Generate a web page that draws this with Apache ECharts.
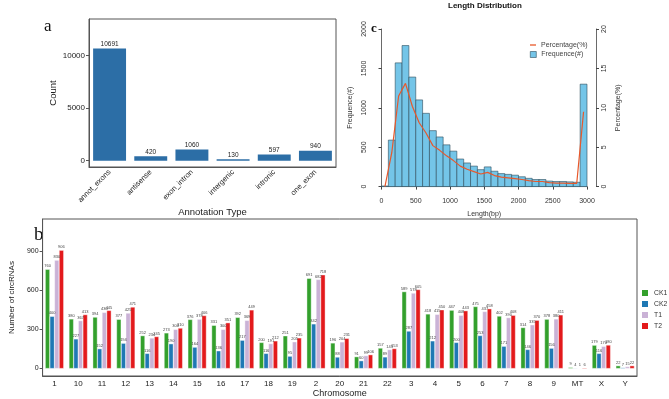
<!DOCTYPE html>
<html><head><meta charset="utf-8">
<script src="https://cdn.jsdelivr.net/npm/echarts@6/dist/echarts.min.js"></script>
<style>html,body{margin:0;padding:0;background:#fff}#c{width:669px;height:399px}</style>
</head><body><div id="c"></div>
<script>
// ---- panel a ----
const annoTypes = ['annot_exons','antisense','exon_intron','intergenic','intronic','one_exon'];
const annoCounts = [10691,420,1060,130,597,940];
const annoTicks = [0,5000,10000];
// ---- panel b ----
const chromosomes = ['1','10','11','12','13','14','15','16','17','18','19','2','20','21','22','3','4','5','6','7','8','9','MT','X','Y'];
const ck1 = [760,380,394,377,252,273,376,331,392,200,251,691,196,91,157,589,418,447,475,402,314,378,9,179,22];
const ck2 = [400,227,152,194,116,190,164,136,217,116,95,342,88,60,89,287,212,200,253,171,146,156,4,116,7];
const t1  = [830,367,430,425,234,300,378,300,369,191,205,682,204,99,145,578,415,408,437,390,335,380,1,170,15];
const t2  = [906,413,445,471,245,310,406,351,449,212,235,718,231,106,153,605,450,443,458,408,370,411,6,180,22];
const groupNames = ['CK1','CK2','T1','T2'];
const circTicks = [0,300,600,900];
// ---- panel c ----
const binStarts = [0,100,200,300,400,500,600,700,800,900,1000,1100,1200,1300,1400,1500,1600,1700,1800,1900,2000,2100,2200,2300,2400,2500,2600,2700,2800,2900];
const binEnds   = [100,200,300,400,500,600,700,800,900,1000,1100,1200,1300,1400,1500,1600,1700,1800,1900,2000,2100,2200,2300,2400,2500,2600,2700,2800,2900,3000];
const freqCounts = [8,590,1570,1790,1390,1100,930,710,630,530,450,350,300,260,215,250,195,165,155,145,125,105,90,90,70,65,65,60,55,1300];
const pctX = [50,150,250,350,450,550,650,750,850,950,1050,1150,1250,1350,1450,1550,1650,1750,1850,1950,2050,2150,2250,2350,2450,2550,2650,2750,2850,2950];
const pctValues = [0,4.3,11.5,13.1,10.2,8.1,6.8,5.2,4.6,3.9,3.3,2.6,2.2,1.9,1.6,1.8,1.4,1.2,1.1,1.0,0.9,0.75,0.65,0.65,0.5,0.45,0.45,0.4,0.4,9.5];

const FONT = "'Liberation Sans', Arial, sans-serif";
const colors = ['#33a02c','#1f78b4','#cab2d6','#e31a1c'];
const plain = v => String(v);
const chart = echarts.init(document.getElementById('c'), null, {renderer:'canvas'});

const bSeries = [ck1,ck2,t1,t2].map((arr,i)=>({
  name: groupNames[i], type:'bar', xAxisIndex:1, yAxisIndex:1,
  data: arr, barGap:'0%', barCategoryGap:'22%',
  itemStyle:{color:colors[i], borderColor:'#fff', borderWidth:0.4},
  label:{show:true, position:'top', distance:1, fontSize:4, color:'#444', fontFamily:FONT},
  emphasis:{disabled:true}
}));

const option = {
  animation:false,
  textStyle:{fontFamily:FONT},
  graphic:[
    {type:'text', left:44, top:18, style:{text:'a', font:"17px 'Liberation Serif', serif", fill:'#111'}},
    {type:'text', left:34, top:226, style:{text:'b', font:"19px 'Liberation Serif', serif", fill:'#111'}},
    {type:'text', left:371, top:22, style:{text:'c', font:"bold 13px 'Liberation Serif', serif", fill:'#111'}},
    {type:'text', left:448, top:2, style:{text:'Length Distribution', font:"bold 8px "+FONT, fill:'#111'}}
  ],
  legend:[
    {data:groupNames, orient:'vertical', left:640, top:288, padding:0, itemWidth:8, itemHeight:8, itemGap:1,
     textStyle:{fontSize:6.8, color:'#333', fontFamily:FONT}, icon:'rect', selectedMode:false},
    {data:['Percentage(%)'], left:530, top:41.5, padding:0, icon:'rect',
     itemWidth:6, itemHeight:1.3, textStyle:{fontSize:7, color:'#444', fontFamily:FONT}, selectedMode:false},
    {data:['Frequence(#)'], left:530, top:51, padding:0, icon:'rect',
     itemWidth:6, itemHeight:6, itemStyle:{color:'#74c5e8', borderColor:'#2d4b5a', borderWidth:0.6},
     textStyle:{fontSize:7, color:'#444', fontFamily:FONT}, selectedMode:false}
  ],
  grid:[
    {left:89, right:333, top:19, bottom:232, show:true, borderColor:'#555', borderWidth:1, backgroundColor:'transparent'},
    {left:24, right:32, top:219, bottom:17, show:true, borderColor:'#555', borderWidth:1, backgroundColor:'transparent'},
    {left:381.5, right:82, top:29, bottom:212.4}
  ],
  xAxis:[
    {gridIndex:0, type:'category', data:annoTypes,
     axisLine:{onZero:false, lineStyle:{color:'#555'}}, axisTick:{alignWithLabel:true, length:3, lineStyle:{color:'#555'}},
     axisLabel:{rotate:45, fontSize:7.5, color:'#222', margin:4, interval:0},
     name:'Annotation Type', nameLocation:'middle', nameGap:24, nameTextStyle:{fontSize:9.5, color:'#222'}},
    {gridIndex:1, type:'category', data:chromosomes,
     axisLine:{onZero:false, lineStyle:{color:'#555'}}, axisTick:{alignWithLabel:true, length:3, lineStyle:{color:'#555'}},
     axisLabel:{fontSize:8, color:'#222', margin:4, interval:0},
     name:'Chromosome', nameLocation:'middle', nameGap:13, nameTextStyle:{fontSize:9, color:'#222'}},
    {gridIndex:2, type:'value', min:0, max:3000, interval:500, offset:6,
     axisLine:{show:true, lineStyle:{color:'#444', width:0.8}}, axisTick:{show:true, length:3, lineStyle:{color:'#444'}},
     axisLabel:{fontSize:7, color:'#333', margin:5, formatter:plain}, splitLine:{show:false},
     name:'Length(bp)', nameLocation:'middle', nameGap:18, nameTextStyle:{fontSize:7, color:'#333'}}
  ],
  yAxis:[
    {gridIndex:0, type:'value', min:-600, max:13500,
     axisLine:{show:true, onZero:false, lineStyle:{color:'#555'}},
     axisTick:{show:true, length:3, customValues:annoTicks, lineStyle:{color:'#555'}},
     axisLabel:{customValues:annoTicks, fontSize:8, color:'#222', margin:4, formatter:plain},
     splitLine:{show:false},
     name:'Count', nameLocation:'middle', nameGap:23, nameTextStyle:{fontSize:9.5, color:'#222'}},
    {gridIndex:1, type:'value', min:-57, max:1145,
     axisLine:{show:true, onZero:false, lineStyle:{color:'#555'}},
     axisTick:{show:true, length:3, customValues:circTicks, lineStyle:{color:'#555'}},
     axisLabel:{customValues:circTicks, fontSize:7, color:'#222', margin:4, formatter:plain},
     splitLine:{show:false},
     name:'Number of circRNAs', nameLocation:'middle', nameGap:13, nameTextStyle:{fontSize:8, color:'#222'}},
    {gridIndex:2, type:'value', min:0, max:2000, interval:500, offset:8.5, position:'left',
     axisLine:{show:true, lineStyle:{color:'#444', width:0.8}}, axisTick:{show:true, length:3, lineStyle:{color:'#444'}},
     axisLabel:{rotate:90, fontSize:7, color:'#333', margin:5, formatter:plain}, splitLine:{show:false},
     name:'Frequence(#)', nameLocation:'middle', nameGap:19, nameTextStyle:{fontSize:7, color:'#333'}},
    {gridIndex:2, type:'value', min:0, max:20, interval:5, offset:9, position:'right',
     axisLine:{show:true, lineStyle:{color:'#444', width:0.8}}, axisTick:{show:true, length:3, lineStyle:{color:'#444'}},
     axisLabel:{rotate:90, fontSize:7, color:'#333', margin:5, formatter:plain}, splitLine:{show:false},
     name:'Percentage(%)', nameLocation:'middle', nameGap:19, nameRotate:90, nameTextStyle:{fontSize:7, color:'#333'}}
  ],
  series:[
    {type:'bar', xAxisIndex:0, yAxisIndex:0, data:annoCounts, barWidth:'80%',
     itemStyle:{color:'#2c6ea6'},
     label:{show:true, position:'top', distance:1, fontSize:6.5, color:'#222'}, emphasis:{disabled:true}},
    ...bSeries,
    {name:'Frequence(#)', type:'custom', xAxisIndex:2, yAxisIndex:2,
     data: binStarts.map((s,i)=>[s, binEnds[i], freqCounts[i]]),
     encode:{x:[0,1], y:2},
     itemStyle:{color:'#74c5e8', borderColor:'#2d4b5a', borderWidth:0.6},
     renderItem:function(params, api){
       const p0 = api.coord([api.value(0), api.value(2)]);
       const p1 = api.coord([api.value(1), 0]);
       return {type:'rect', shape:{x:p0[0], y:p0[1], width:p1[0]-p0[0], height:p1[1]-p0[1]},
               style:{fill:'#74c5e8', stroke:'#2d4b5a', lineWidth:0.6}};
     }},
    {name:'Percentage(%)', type:'line', xAxisIndex:2, yAxisIndex:3,
     data: pctX.map((x,i)=>[x, pctValues[i]]), symbol:'none',
     lineStyle:{color:'#e8582b', width:1.2}, itemStyle:{color:'#e8582b'}}
  ]
};
chart.setOption(option);
</script>
</body></html>
